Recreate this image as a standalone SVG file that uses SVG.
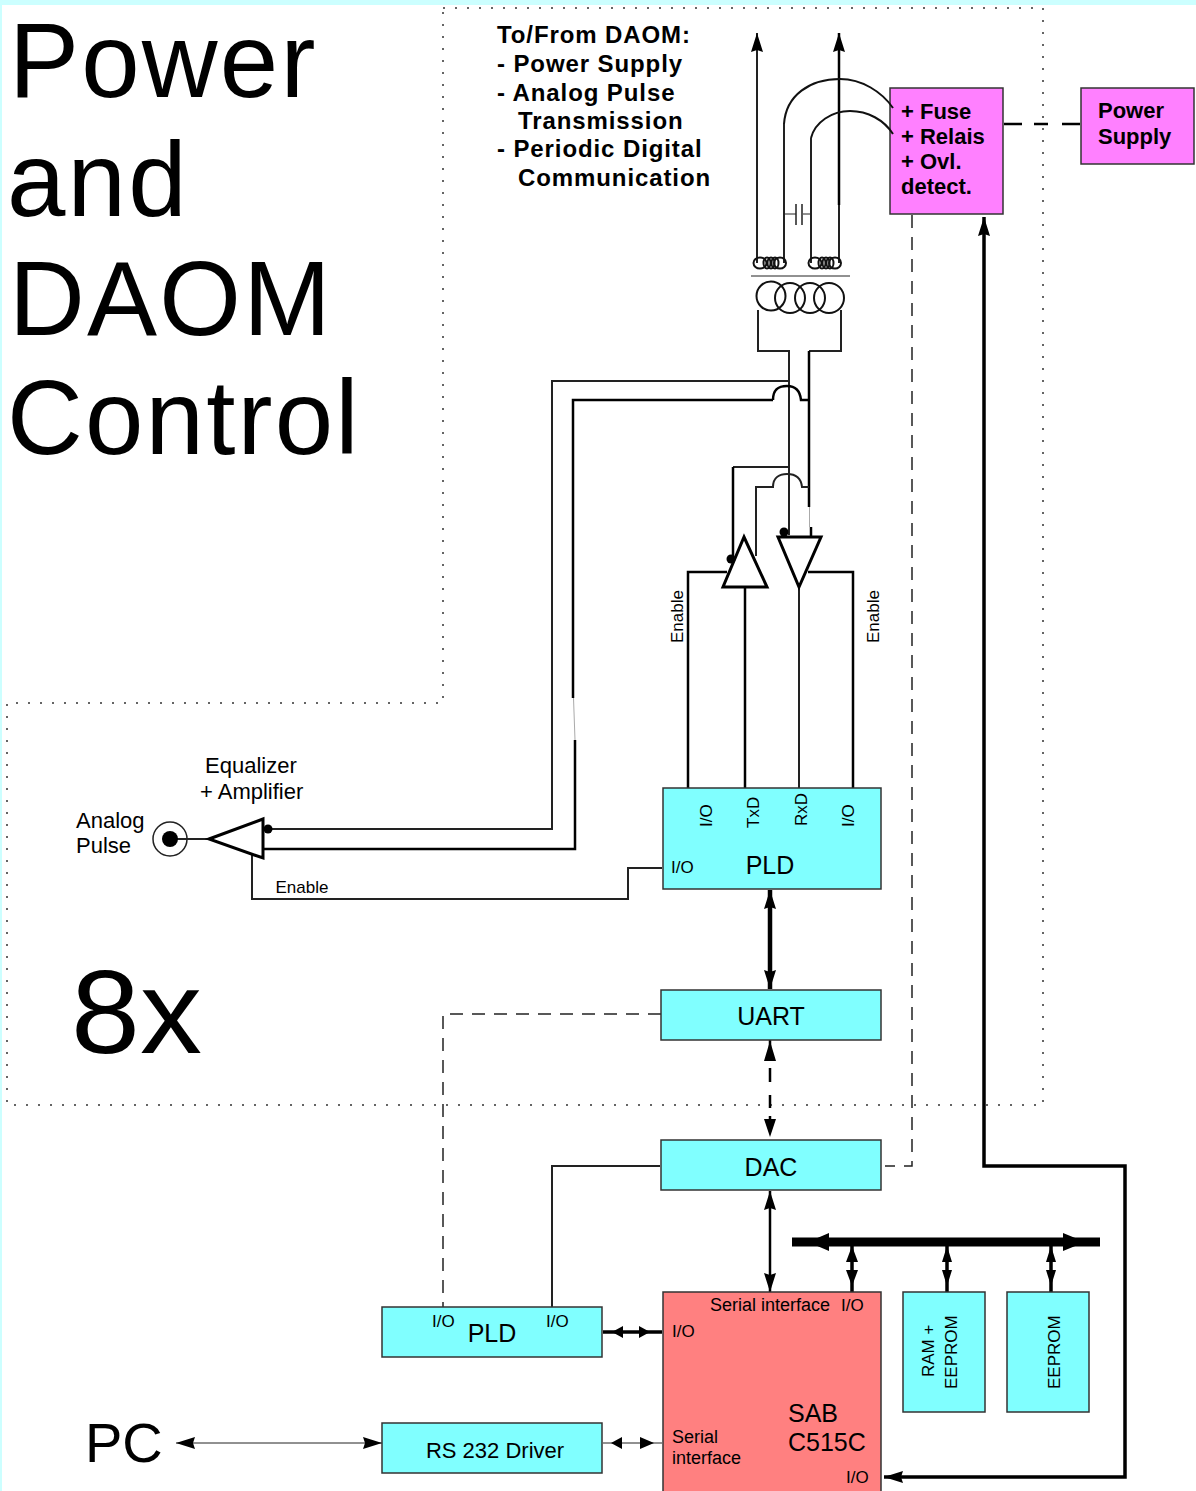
<svg xmlns="http://www.w3.org/2000/svg" width="1196" height="1491" viewBox="0 0 1196 1491">
<style>
text{font-family:"Liberation Sans",Arial,sans-serif;fill:#000}
.big{font-size:105px;letter-spacing:2.2px}
.b{font-weight:bold;font-size:24px;letter-spacing:.9px}
.f{font-weight:bold;font-size:22px}
.m{font-size:25px;text-anchor:middle}
.s{font-size:17px}
.t{font-size:18px}
.q{font-size:22px}
.box{stroke:#333;stroke-width:1.5}
.cy{fill:#80ffff}
.l,.l1,.l2,.l3,.l4,.l5,.d,.dot,.fa{fill:none;stroke:#000}
.l1{stroke-width:1;stroke:#222}.l{stroke-width:2;stroke:#222}.l2{stroke-width:2.5}.l3{stroke-width:3.5}.l5{stroke-width:4.5}.l4{stroke-width:9}
.fa{stroke:#aaa;stroke-width:1}
.d{stroke-width:1.5;stroke-dasharray:13 9;stroke:#222}
.dot{stroke-width:1.5;stroke-dasharray:2 10;stroke:#333}
.co{fill:none;stroke:#111;stroke-width:2}
marker{overflow:visible}
</style>
<defs>
<marker id="a" markerUnits="userSpaceOnUse" markerWidth="20" markerHeight="14" refX="19" refY="7" orient="auto-start-reverse" viewBox="0 0 20 14"><path d="M0 1 L19 7 L0 13 L2 7Z" fill="#000"/></marker>
</defs>
<rect width="1196" height="1491" fill="#fff"/>
<path d="M0 0H1196V5H2V1491H0Z" fill="#ccffff"/>
<g id="frame"><path class="dot" d="M443 8H1043V1105H7V703H443V8"/></g>
<g id="titles">
<text class="big" x="9" y="97">Power</text>
<text class="big" x="7" y="216">and</text>
<text class="big" x="9" y="335">DAOM</text>
<text class="big" x="7" y="454">Control</text>
<text transform="translate(71 1053) scale(1.05 1)" font-size="118">8x</text>
<text x="85" y="1462" font-size="56">PC</text>
</g>
<g id="fuse"><rect class="box" x="890" y="88" width="113" height="126" fill="#ff80ff"/>
<text class="f" x="901" y="119">+ Fuse</text><text class="f" x="901" y="144">+ Relais</text><text class="f" x="901" y="169">+ Ovl.</text><text class="f" x="901" y="194">detect.</text></g>
<g id="connectors">
<path class="l" d="M757 263V33" marker-end="url(#a)"/>
<path class="l2" d="M839 205V33" marker-end="url(#a)"/>
<path class="l" d="M839 205V263"/>
<path class="co" d="M784 124C786 95 810 79 840 79C862 79 882 92 893 108"/>
<path class="co" d="M811 138C815 122 832 111 850 111C868 111 884 120 893 134"/>
<path class="l" d="M784 263V124M811 263V138"/>
<path class="l1" d="M784 214H796M803 214H811"/>
<path class="l" style="stroke-width:1.5" d="M796 204V225M802 204V225"/>
<path class="l1" d="M751 276H850"/>
<g class="co"><ellipse cx="760" cy="263" rx="6.5" ry="5.5"/><ellipse cx="767" cy="263" rx="3.5" ry="5.5"/><ellipse cx="771" cy="263" rx="3.5" ry="5.5"/><ellipse cx="775" cy="263" rx="3.5" ry="5.5"/><ellipse cx="780" cy="263" rx="6" ry="5.5"/><ellipse cx="815" cy="263" rx="6.5" ry="5.5"/><ellipse cx="822" cy="263" rx="3.5" ry="5.5"/><ellipse cx="826" cy="263" rx="3.5" ry="5.5"/><ellipse cx="830" cy="263" rx="3.5" ry="5.5"/><ellipse cx="835" cy="263" rx="6" ry="5.5"/></g>
<g class="co"><circle cx="771" cy="296" r="14.5"/><circle cx="790" cy="298" r="15"/><circle cx="810" cy="298" r="15"/><circle cx="829" cy="298" r="15"/></g>
<path class="l" d="M758 310V351H789V535"/>
<path class="l" d="M841 310V351H809"/>
<path class="l2" d="M809 351V507"/>
<path class="fa" d="M809.5 507V527"/>
<path class="l2" d="M811 527V537"/>
<path class="l" d="M789 467H733"/>
<path class="l2" d="M733 467V557"/>
<path class="l" d="M789 381H552V829H268"/>
<path class="l2" d="M773 400C773 388 780 386 787 386C795 386 800 390 801 400H809"/>
<path class="l2" d="M773 400H573V698"/>
<path class="fa" d="M573.5 698L575 740"/>
<path class="l2" d="M575 740V849H264"/>
<path class="l" d="M756 556V487H773C773 477 780 474 787 474C795 474 801 477 802 487H809"/>
<path class="l2" d="M688 788V572H727"/>
<path class="l2" d="M745 788V587"/>
<path class="l" d="M799 788V587"/>
<path class="l2" d="M853 788V572H808"/>
<path class="l" d="M170 839H208"/>
<path class="l" d="M252 853V899H628V868H662"/>
<path class="l5" d="M770 890V989" marker-start="url(#a)" marker-end="url(#a)"/>
<path class="d" d="M661 1014H443V1307"/>
<path class="l2" d="M770 1040V1060M770 1068V1082M770 1095V1108M770 1116V1130"/>
<path d="M770 1041L776 1061H764ZM770 1137L776 1119H764Z"/>
<path class="d" d="M912 215V1166H885"/>
<path class="l" d="M660 1166H552V1307"/>
<path class="l2" d="M770 1191V1292" marker-start="url(#a)" marker-end="url(#a)"/>
<path class="l4" d="M792 1242H1100"/>
<path d="M808 1242L829 1233V1251ZM1085 1242L1063 1233V1251Z"/>
<path class="l3" d="M852 1246V1292M947 1246V1292M1051 1246V1292"/>
<path d="M852 1246L858 1262H846ZM852 1286L858 1270H846ZM947 1246L952 1262H942ZM947 1286L952 1270H942ZM1051 1246L1056 1262H1046ZM1051 1286L1056 1270H1046Z"/>
<path class="l3" d="M603 1332H662"/>
<path d="M612 1332L623 1326V1338ZM650 1332L639 1326V1338Z"/>
<path class="l1" d="M603 1443H662"/>
<path d="M611 1443L622 1437V1449ZM654 1443L640 1437V1449Z"/>
<path class="l1" d="M176 1443H382" marker-start="url(#a)" marker-end="url(#a)"/>
<path class="l3" d="M884 1477H1125V1166H984V217" marker-start="url(#a)" marker-end="url(#a)"/>
<path d="M1004 124H1022M1034 124H1048M1062 124H1080" fill="none" stroke="#000" stroke-width="2.5"/>
</g>
<g id="supply"><rect class="box" x="1081" y="88" width="113" height="76" fill="#ff80ff"/>
<text class="f" x="1098" y="118">Power</text><text class="f" x="1098" y="144">Supply</text></g>
<g id="note">
<text class="b" x="497" y="43">To/From DAOM:</text><text class="b" x="497" y="72">- Power Supply</text><text class="b" x="497" y="101">- Analog Pulse</text><text class="b" x="518" y="129">Transmission</text><text class="b" x="497" y="157">- Periodic Digital</text><text class="b" x="518" y="186">Communication</text>
</g>
<g id="driver-tx"><path d="M744 537L767 587H723Z" fill="#fff" stroke="#000" stroke-width="3"/><circle cx="731" cy="559" r="4.5"/></g>
<g id="driver-rx"><path d="M778 537H821L799 587Z" fill="#fff" stroke="#000" stroke-width="3"/><circle cx="784" cy="532" r="4.5"/></g>
<g id="enable-labels"><text class="s" transform="translate(683 643) rotate(-90)">Enable</text><text class="s" transform="translate(879 643) rotate(-90)">Enable</text></g>
<g id="amplifier"><path d="M209 839L263 819V858Z" fill="#fff" stroke="#000" stroke-width="3"/><circle cx="268" cy="829" r="4.5"/>
<text class="q" x="205" y="773">Equalizer</text><text class="q" x="200" y="799">+ Amplifier</text><text x="302" y="893" class="s" text-anchor="middle">Enable</text></g>
<g id="pulse"><circle cx="170" cy="839" r="17" fill="none" stroke="#222" stroke-width="1.5"/><circle cx="170" cy="839" r="8"/><text class="q" x="76" y="828">Analog</text><text class="q" x="76" y="853">Pulse</text></g>
<g id="pld1"><rect class="box cy" x="663" y="788" width="218" height="101"/>
<text class="m" x="770" y="874">PLD</text><text class="s" x="671" y="873">I/O</text>
<text class="s" transform="translate(712 827) rotate(-90)">I/O</text><text class="s" transform="translate(759 828) rotate(-90)">TxD</text><text class="s" transform="translate(807 826) rotate(-90)">RxD</text><text class="s" transform="translate(854 827) rotate(-90)">I/O</text></g>
<g id="uart"><rect class="box cy" x="661" y="990" width="220" height="50"/><text class="m" x="771" y="1025">UART</text></g>
<g id="dac"><rect class="box cy" x="661" y="1140" width="220" height="50"/><text class="m" x="771" y="1176">DAC</text></g>
<g id="pld2"><rect class="box cy" x="382" y="1307" width="220" height="50"/><text class="m" x="492" y="1342">PLD</text><text class="s" x="432" y="1327">I/O</text><text class="s" x="546" y="1327">I/O</text></g>
<g id="rs232"><rect class="box cy" x="382" y="1423" width="220" height="50"/><text x="495" y="1458" font-size="22" text-anchor="middle">RS 232 Driver</text></g>
<g id="cpu"><rect class="box" x="663" y="1292" width="218" height="205" fill="#ff8080"/>
<text class="t" x="710" y="1311">Serial interface</text><text class="s" x="841" y="1311">I/O</text><text class="s" x="672" y="1337">I/O</text>
<text class="t" x="672" y="1443">Serial</text><text class="t" x="672" y="1464">interface</text><text class="s" x="846" y="1483">I/O</text>
<text x="788" y="1422" font-size="25">SAB</text><text x="788" y="1451" font-size="25">C515C</text></g>
<g id="ram"><rect class="box cy" x="903" y="1292" width="82" height="120"/><text class="s" transform="translate(934 1377) rotate(-90)">RAM +</text><text class="s" transform="translate(957 1389) rotate(-90)">EEPROM</text></g>
<g id="eeprom"><rect class="box cy" x="1007" y="1292" width="82" height="120"/><text class="s" transform="translate(1060 1389) rotate(-90)">EEPROM</text></g>
</svg>
